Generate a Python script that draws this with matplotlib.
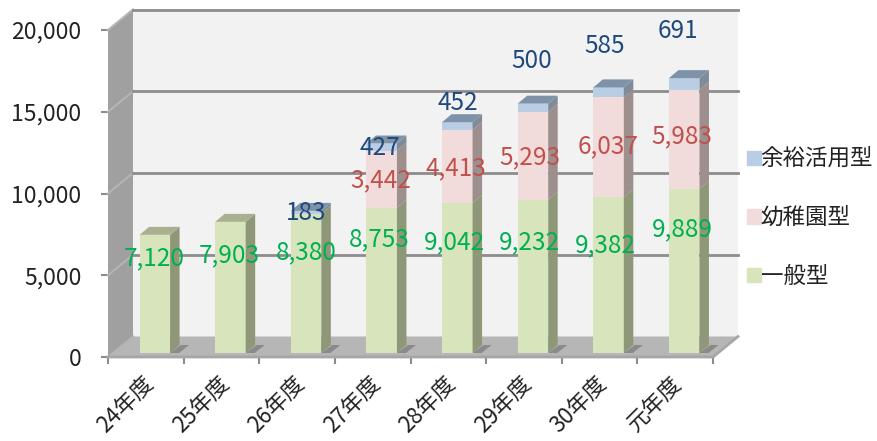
import matplotlib
matplotlib.use('Agg')
import numpy as np
import matplotlib.pyplot as plt
from matplotlib.patches import Patch
from matplotlib.transforms import ScaledTranslation

plt.rcParams['font.family'] = ['Noto Sans CJK JP', 'DejaVu Sans']

# Data
years = ['24年度', '25年度', '26年度', '27年度', '28年度', '29年度', '30年度', '元年度']
general = [7120, 7903, 8380, 8753, 9042, 9232, 9382, 9889]
kinder = [0, 0, 0, 3442, 4413, 5293, 6037, 5983]
spare = [0, 0, 183, 427, 452, 500, 585, 691]
yticks = [0, 5000, 10000, 15000, 20000]

# Label centres in picture pixels (hand placed in the original)
general_lab = [(154, 258), (229, 255), (306, 252), (379, 239), (454, 242), (529, 242), (605, 245), (682, 229)]
kinder_lab = [(381, 180), (456, 168), (530, 157), (608, 146), (682, 136)]
spare_lab = [(306, 213), (380, 148), (458, 103), (532, 61), (605, 46), (678, 31)]

W, H = 877, 441
fig = plt.figure(figsize=(W / 100, H / 100), dpi=100)
# front plane of the 3D box
ax = fig.add_axes([108 / W, 1 - 357 / H, 605 / W, 327 / H])
ax.set_xlim(-0.5, 7.5)
ax.set_ylim(0, 20000)
ax.patch.set_visible(False)
for s in ax.spines.values():
    s.set_visible(False)

# pixel sizes to data units
xpx = 8 / 605
ypx = 20000 / 327
dep_x, dep_y = 25 * xpx, 20.5 * ypx
grid = '#8c8c8c'

# walls and floor
ax.fill([-0.5 + dep_x, 7.5 + dep_x, 7.5 + dep_x, -0.5 + dep_x],
        [dep_y, dep_y, 20000 + dep_y, 20000 + dep_y], color='#f2f2f2', lw=0, clip_on=False, zorder=1)
ax.fill([-0.5, -0.5 + dep_x, -0.5 + dep_x, -0.5],
        [0, dep_y, 20000 + dep_y, 20000], color='#a0a0a0', lw=0, clip_on=False, zorder=1)
ax.fill([-0.5, 7.5, 7.5 + dep_x, -0.5 + dep_x],
        [0, 0, dep_y, dep_y], color='#b6b6b6', lw=0, clip_on=False, zorder=1)
for t in yticks:
    ax.plot([-0.5, -0.5 + dep_x], [t, t + dep_y], color='#b4b4b4', lw=1.5, clip_on=False, zorder=2)
    if t > 0:
        ax.plot([-0.5 + dep_x, 7.5 + dep_x], [t + dep_y, t + dep_y],
                color=grid, lw=2, clip_on=False, zorder=2)
ax.plot([-0.5, 7.5, 7.5 + dep_x], [0, 0, dep_y], color='#a6a6a6', lw=2, clip_on=False, zorder=2)

# bars
x = np.arange(len(years))
shift = 9 * xpx
base = 4 * ypx
bar_w = 30.5 * xpx
bar_dx, bar_dy = 9.5 * xpx, 8 * ypx
scale = 1.015
series = [(general, '#d7e4bc', '#8f9779', '#a9b08f'),
          (kinder, '#f2dcdb', '#9c8f8d', '#b5a3a2'),
          (spare, '#b9cde5', '#7f8b98', '#7f93a8')]

for i in x:
    left = i + shift - bar_w / 2
    right = left + bar_w
    # shadow on the floor
    ax.fill([right, right + 9 * xpx, right + 19 * xpx, right + 11 * xpx],
            [base, base, base + 8 * ypx, base + 8 * ypx], color='#8a8a8a', lw=0, zorder=3, clip_on=False)
    bottom = base
    top_col = None
    for vals, face, side, top in series:
        h = vals[i] * scale
        if h == 0:
            continue
        ax.bar(i + shift, h, bar_w, bottom=bottom, color=face, lw=0, zorder=4 + i)
        ax.fill([right, right + bar_dx, right + bar_dx, right],
                [bottom, bottom + bar_dy, bottom + h + bar_dy, bottom + h],
                color=side, lw=0, zorder=4 + i, clip_on=False)
        bottom += h
        top_col = top
    ax.fill([left, right, right + bar_dx, left + bar_dx],
            [bottom, bottom, bottom + bar_dy, bottom + bar_dy],
            color=top_col, lw=0, zorder=4 + i, clip_on=False)

# axes ticks
ax.set_yticks(yticks)
ax.set_yticklabels([f'{t:,}' for t in yticks])
ax.tick_params(axis='y', length=5, width=1.5, color=grid, labelsize=16.5, labelcolor='#222222', pad=14)
ax.set_xticks(x)
ax.set_xticklabels(years, rotation=45, ha='right', va='top', rotation_mode='anchor', fontsize=16, color='#222222')
ax.tick_params(axis='x', length=0, pad=11)
ax.set_xticks(np.arange(-0.5, 8), minor=True)
ax.tick_params(axis='x', which='minor', length=5, width=1.5, color=grid)
nudge = ScaledTranslation(-4 / 100, 0, fig.dpi_scale_trans)
for lab in ax.get_xticklabels():
    lab.set_transform(lab.get_transform() + nudge)

# value labels
def put_labels(vals, places, color):
    for v, (px, py) in zip(vals, places):
        fig.text(px / W, 1 - py / H, f'{v:,}', color=color, fontsize=17.5, ha='center', va='center', zorder=50)

put_labels(general, general_lab, '#00b050')
put_labels([v for v in kinder if v], kinder_lab, '#c0504d')
put_labels([v for v in spare if v], spare_lab, '#1f497d')

# legend
handles = [Patch(color=s[1]) for s in series[::-1]]
fig.legend(handles, ['余裕活用型', '幼稚園型', '一般型'], loc='center left',
           bbox_to_anchor=(747 / W, 1 - 218 / H), frameon=False, fontsize=16.2, labelcolor='#222222',
           handlelength=0.6, handleheight=0.6, handletextpad=0.0, labelspacing=1.58, borderpad=0, borderaxespad=0)

fig.savefig('out.png', dpi=100)
